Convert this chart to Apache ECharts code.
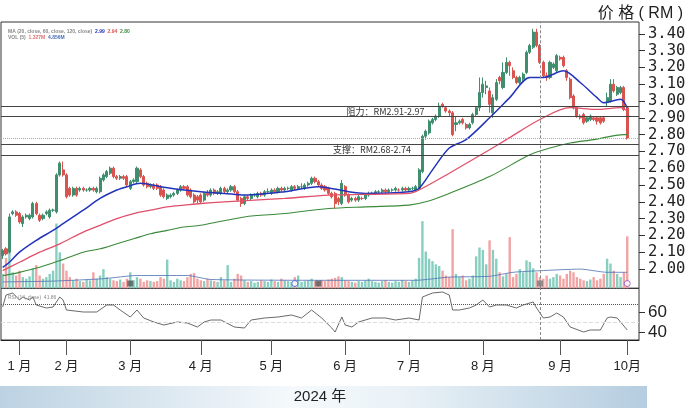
<!DOCTYPE html>
<html><head><meta charset="utf-8">
<script src="https://cdn.jsdelivr.net/npm/echarts@6/dist/echarts.min.js"></script>
<style>html,body{margin:0;padding:0;background:#fff}#c{width:690px;height:408px}</style>
</head><body><div id="c"></div>
<script>
// ---- data ----
// candles: [open, close, low, high]
const candles = [
[2.08,2.11,2.06,2.12],[2.12,2.09,2.08,2.13],[2.10,2.31,2.09,2.33],[2.33,2.34,2.32,2.35],[2.34,2.32,2.31,2.35],
[2.33,2.28,2.27,2.34],[2.27,2.31,2.25,2.32],[2.31,2.32,2.30,2.33],[2.30,2.32,2.29,2.33],[2.31,2.39,2.30,2.40],
[2.39,2.33,2.32,2.40],[2.32,2.29,2.28,2.33],[2.30,2.32,2.29,2.33],[2.33,2.34,2.32,2.35],[2.31,2.35,2.30,2.36],
[2.35,2.35,2.34,2.36],[2.34,2.56,2.33,2.57],[2.56,2.63,2.55,2.64],[2.59,2.56,2.55,2.64],[2.56,2.43,2.42,2.57],
[2.48,2.44,2.43,2.49],[2.44,2.48,2.43,2.49],[2.48,2.44,2.43,2.49],[2.47,2.48,2.46,2.49],[2.48,2.47,2.46,2.49],
[2.47,2.47,2.46,2.48],[2.47,2.48,2.46,2.49],[2.48,2.47,2.46,2.49],[2.46,2.48,2.45,2.49],[2.46,2.54,2.45,2.55],
[2.53,2.56,2.52,2.57],[2.55,2.58,2.54,2.59],[2.57,2.60,2.56,2.61],[2.60,2.55,2.54,2.61],[2.55,2.54,2.53,2.56],
[2.54,2.55,2.53,2.56],[2.55,2.54,2.53,2.56],[2.55,2.50,2.49,2.56],[2.48,2.52,2.47,2.53],[2.52,2.53,2.51,2.54],
[2.52,2.60,2.51,2.61],[2.59,2.55,2.54,2.60],[2.55,2.50,2.49,2.56],[2.51,2.49,2.48,2.52],[2.49,2.50,2.48,2.51],
[2.50,2.48,2.47,2.51],[2.50,2.48,2.47,2.51],[2.49,2.44,2.43,2.50],[2.47,2.43,2.42,2.48],[2.42,2.44,2.41,2.45],
[2.43,2.44,2.42,2.45],[2.44,2.45,2.43,2.46],[2.45,2.47,2.44,2.48],[2.47,2.49,2.46,2.50],[2.49,2.48,2.47,2.50],
[2.49,2.44,2.43,2.50],[2.47,2.43,2.42,2.48],[2.44,2.40,2.39,2.45],[2.43,2.41,2.39,2.44],[2.44,2.40,2.39,2.45],
[2.41,2.45,2.40,2.46],[2.45,2.44,2.43,2.47],[2.44,2.47,2.43,2.48],[2.47,2.45,2.44,2.48],[2.45,2.46,2.44,2.47],
[2.45,2.48,2.44,2.49],[2.48,2.46,2.45,2.49],[2.46,2.47,2.45,2.48],[2.47,2.49,2.46,2.50],[2.49,2.46,2.45,2.50],
[2.46,2.41,2.40,2.47],[2.42,2.39,2.37,2.43],[2.39,2.43,2.38,2.44],[2.43,2.42,2.41,2.44],[2.42,2.44,2.41,2.45],
[2.44,2.44,2.43,2.45],[2.43,2.45,2.42,2.46],[2.45,2.44,2.43,2.46],[2.44,2.46,2.43,2.47],[2.46,2.46,2.45,2.48],
[2.45,2.47,2.44,2.48],[2.47,2.46,2.45,2.48],[2.46,2.48,2.45,2.49],[2.48,2.47,2.46,2.49],[2.47,2.48,2.46,2.49],
[2.48,2.48,2.47,2.49],[2.47,2.49,2.46,2.50],[2.49,2.48,2.47,2.50],[2.48,2.49,2.47,2.50],[2.49,2.49,2.48,2.51],
[2.48,2.50,2.47,2.51],[2.50,2.51,2.49,2.52],[2.51,2.54,2.50,2.55],[2.54,2.52,2.51,2.55],[2.52,2.50,2.49,2.53],
[2.50,2.48,2.47,2.51],[2.49,2.47,2.46,2.50],[2.48,2.45,2.44,2.49],[2.45,2.43,2.42,2.46],[2.45,2.39,2.36,2.46],
[2.42,2.40,2.38,2.43],[2.39,2.51,2.38,2.53],[2.49,2.44,2.43,2.50],[2.44,2.40,2.39,2.45],[2.41,2.42,2.40,2.43],
[2.42,2.41,2.40,2.43],[2.41,2.43,2.40,2.44],[2.42,2.42,2.41,2.43],[2.42,2.44,2.41,2.45],[2.44,2.45,2.43,2.46],
[2.45,2.45,2.44,2.46],[2.45,2.46,2.44,2.47],[2.46,2.46,2.45,2.47],[2.46,2.47,2.45,2.48],[2.47,2.46,2.45,2.48],
[2.46,2.47,2.45,2.48],[2.47,2.47,2.46,2.48],[2.47,2.48,2.46,2.49],[2.47,2.47,2.46,2.48],[2.47,2.48,2.46,2.49],
[2.48,2.47,2.46,2.49],[2.47,2.48,2.46,2.49],[2.48,2.48,2.47,2.49],[2.47,2.49,2.46,2.50],[2.48,2.59,2.47,2.60],
[2.58,2.79,2.57,2.80],[2.79,2.82,2.77,2.83],[2.81,2.88,2.80,2.89],[2.87,2.89,2.86,2.90],[2.89,2.91,2.88,2.92],
[2.91,2.97,2.90,2.99],[2.98,2.97,2.96,2.99],[2.96,2.94,2.93,2.97],[2.94,2.93,2.91,2.95],[2.93,2.80,2.79,2.94],
[2.86,2.87,2.82,2.91],[2.87,2.88,2.86,2.89],[2.89,2.87,2.86,2.90],[2.86,2.84,2.83,2.87],[2.84,2.86,2.83,2.87],
[2.87,2.92,2.86,2.93],[2.92,2.96,2.91,2.97],[2.96,3.05,2.94,3.14],[3.05,3.10,3.02,3.14],[3.08,3.09,3.04,3.12],
[3.06,2.98,2.93,3.08],[2.93,3.02,2.90,3.04],[3.01,3.11,3.00,3.13],[3.14,3.12,3.10,3.15],[3.08,3.17,3.07,3.23],
[3.17,3.23,3.16,3.26],[3.23,3.21,3.15,3.24],[3.18,3.14,3.13,3.20],[3.14,3.11,3.10,3.15],[3.11,3.14,3.10,3.15],
[3.13,3.16,3.12,3.17],[3.17,3.29,3.16,3.30],[3.29,3.33,3.28,3.34],[3.32,3.41,3.31,3.43],[3.41,3.33,3.32,3.43],
[3.33,3.23,3.22,3.34],[3.23,3.15,3.14,3.24],[3.15,3.14,3.12,3.17],[3.14,3.23,3.13,3.24],[3.20,3.22,3.19,3.23],
[3.18,3.27,3.17,3.28],[3.26,3.25,3.24,3.27],[3.26,3.21,3.20,3.27],[3.18,3.14,3.12,3.19],[3.13,3.02,3.01,3.14],
[3.03,2.96,2.95,3.04],[2.96,2.91,2.90,2.97],[2.91,2.90,2.89,2.92],[2.92,2.87,2.86,2.93],[2.88,2.90,2.87,2.91],
[2.89,2.91,2.88,2.92],[2.90,2.89,2.88,2.91],[2.90,2.88,2.86,2.91],[2.90,2.87,2.86,2.91],[2.90,2.88,2.87,2.91],
[2.99,3.02,2.97,3.05],[3.00,3.10,2.99,3.13],[3.10,3.06,3.05,3.13],[3.04,3.08,3.03,3.09],[3.05,3.08,3.04,3.09],
[3.08,2.95,2.94,3.09],[2.96,2.78,2.77,2.97]
];
const volumes = [
18,38,45,20,16,22,14,12,15,25,
29,16,12,14,18,22,81,45,31,22,
14,10,12,9,8,11,10,20,12,16,
24,14,12,10,9,11,8,12,20,10,
14,12,8,10,9,8,9,14,12,36,
10,8,12,10,9,14,18,19,12,10,
9,12,10,9,8,14,10,29,8,12,
18,16,10,8,9,7,8,10,9,8,
11,9,8,12,10,9,8,14,16,8,
9,10,12,9,8,10,9,11,12,13,
15,14,10,9,8,7,9,8,10,12,
9,8,7,9,10,8,7,9,8,10,
9,8,10,12,38,84,46,37,34,30,
28,22,16,14,74,18,14,16,10,12,
16,40,51,48,30,60,48,37,20,15,
18,64,14,18,24,20,35,33,25,20,
14,12,16,12,14,18,16,12,18,22,
20,14,12,10,9,11,14,10,12,18,
37,31,22,18,14,20,65
];
// moving averages sampled at candle index: [index, value]
const maBlue = [[0,2.01],[2,2.04],[5,2.10],[10,2.17],[15,2.23],[18,2.27],[24,2.35],[29,2.42],[34,2.47],[37,2.49],[41,2.51],[47,2.49],[54,2.47],[59,2.46],[66,2.45],[72,2.44],[84,2.46],[94,2.49],[103,2.46],[108,2.45],[121,2.46],[124,2.48],[128,2.59],[133,2.72],[138,2.77],[145,2.90],[151,3.02],[157,3.14],[161,3.14],[167,3.18],[172,3.11],[177,3.02],[179,2.99],[184,3.01],[186,2.96]];
const maRed = [[0,1.99],[5,2.04],[11,2.10],[17,2.15],[24,2.22],[29,2.26],[34,2.30],[39,2.33],[44,2.35],[49,2.37],[54,2.38],[59,2.39],[66,2.40],[84,2.42],[97,2.44],[121,2.45],[124,2.47],[133,2.57],[145,2.71],[150,2.77],[160,2.89],[169,2.96],[177,2.95],[184,2.96],[186,2.94]];
const maGreen = [[0,1.96],[5,1.98],[11,2.01],[17,2.05],[24,2.10],[29,2.12],[34,2.15],[39,2.18],[44,2.21],[49,2.23],[54,2.25],[59,2.26],[72,2.31],[84,2.33],[97,2.36],[108,2.37],[121,2.38],[126,2.40],[133,2.45],[145,2.55],[157,2.68],[163,2.72],[169,2.75],[176,2.77],[185,2.80],[186,2.80]];
const volMA = [[0,8],[15,9],[30,12],[40,16],[55,16],[62,11],[100,10],[123,10],[133,14],[145,15],[152,20],[160,22],[172,24],[180,20],[186,20]];
const rsi = [[0,65],[1,77],[3,79],[5,72],[6,75],[8,72],[9,75],[10,67],[13,64],[15,65],[17,75],[18,72],[19,62],[24,60],[28,60],[31,67],[33,67],[35,62],[38,55],[40,62],[42,54],[45,50],[48,47],[52,50],[55,49],[58,45],[60,50],[62,52],[65,52],[69,45],[72,44],[74,52],[78,54],[82,55],[86,57],[89,54],[92,62],[95,54],[98,44],[99,40],[101,55],[102,47],[104,45],[106,50],[110,54],[114,54],[117,52],[121,54],[124,52],[125,75],[128,79],[131,80],[133,77],[134,62],[136,62],[139,64],[141,67],[143,72],[145,65],[147,67],[150,67],[153,64],[155,67],[158,70],[159,64],[161,54],[163,55],[165,59],[167,55],[169,45],[173,40],[175,42],[178,42],[180,54],[181,55],[183,54],[186,42]];
const levels = [2.97, 2.91, 2.74, 2.68];
const lastPrice = 2.78;
const notes = [{idx:114, price:2.94, text:'阻力：RM2.91-2.97'},{idx:110, price:2.71, text:'支撑：RM2.68-2.74'}];
const crossIdx = 160;
const events = [{idx:38, kind:'sq'},{idx:87, kind:'ci'},{idx:94, kind:'sq'},{idx:160, kind:'sq2'},{idx:186, kind:'ci2'}];
const priceTicks = [2.0,2.1,2.2,2.3,2.4,2.5,2.6,2.7,2.8,2.9,3.0,3.1,3.2,3.3,3.4];
const rsiTicks = [40, 60];
const monthTickIdx = [5, 19, 38, 59, 80, 102, 121, 143, 166, 186];
const monthLabels = ['1 月','2 月','3 月','4 月','5 月','6 月','7 月','8 月','9 月','10月'];
const N_SLOTS = 190;

// ---- chart ----
const cats = Array.from({length: N_SLOTS}, (_, i) => 'd' + i);
const UP = '#3f8f6e', DOWN = '#d9534f', VUP = '#88cfc1', VDOWN = '#f2a3a3';
const FONT = '"Liberation Sans","Noto Sans CJK SC",sans-serif';
const MONO = '"DejaVu Sans Mono","Liberation Mono",monospace';
const isMonth = (i) => monthTickIdx.indexOf(i) >= 0;

const chart = echarts.init(document.getElementById('c'), null, {renderer: 'canvas'});
chart.setOption({
  animation: false,
  backgroundColor: '#fff',
  textStyle: {fontFamily: FONT},
  title: [
    {text: '价 格 ( RM )', right: 2, top: 1, textStyle: {fontSize: 16, fontWeight: 'normal', color: '#222', fontFamily: FONT}},
    {text: '{a|MA (20, close, 60, close, 120, close)}  {b|2.99}  {r|2.94}  {g|2.80}\n{a|VOL (5)}  {p|1.327M}  {v|4.856M}', left: 3, top: 24,
     textStyle: {fontSize: 5, lineHeight: 6, rich: {a:{fontSize:5,color:'#888'}, b:{fontSize:5,color:'#2233bb'}, r:{fontSize:5,color:'#d9534f'}, g:{fontSize:5,color:'#3a8a3a'}, p:{fontSize:5,color:'#e07070'}, v:{fontSize:5,color:'#4a6fb5'}}}},
    {text: 'RSI (14, close)  41.86', left: 3, top: 290, textStyle: {fontSize: 5, fontWeight: 'normal', color: '#888'}}
  ],
  grid: [
    {left: 1, width: 638, top: 33.8, height: 235.2},
    {left: 1, width: 638, top: 22, height: 266.3, show: true, borderColor: '#333', borderWidth: 1},
    {left: 1, width: 638, top: 288.3, height: 51.7, show: true, borderColor: '#333', borderWidth: 1}
  ],
  xAxis: [
    {type: 'category', gridIndex: 0, data: cats, show: false},
    {type: 'category', gridIndex: 1, data: cats, show: false},
    {type: 'category', gridIndex: 2, data: cats,
     axisLine: {show: true, lineStyle: {color: '#222', width: 1}},
     axisTick: {show: true, length: 15, alignWithLabel: true, interval: (i) => isMonth(i), lineStyle: {color: '#555'}},
     axisLabel: {interval: (i) => isMonth(i), formatter: (v, i) => monthLabels[monthTickIdx.indexOf(i)] || '', margin: 20, fontSize: 13, color: '#222', fontFamily: FONT},
     splitLine: {show: false}}
  ],
  yAxis: [
    {type: 'value', gridIndex: 0, position: 'right', min: 2.0, max: 3.4, scale: true,
     axisLine: {show: false},
     axisTick: {show: true, length: 6, customValues: priceTicks, lineStyle: {color: '#333'}},
     axisLabel: {customValues: priceTicks, formatter: (v) => v.toFixed(2), margin: 9, fontSize: 15.5, color: '#222', fontFamily: MONO},
     splitLine: {show: false}},
    {type: 'value', gridIndex: 1, min: 0, max: 333, show: false},
    {type: 'value', gridIndex: 2, position: 'right', min: 32, max: 83.7,
     axisLine: {show: false},
     axisTick: {show: true, length: 6, customValues: rsiTicks, lineStyle: {color: '#333'}},
     axisLabel: {customValues: rsiTicks, margin: 9, fontSize: 17, color: '#222', fontFamily: FONT},
     splitLine: {show: false}}
  ],
  series: [
    {type: 'candlestick', xAxisIndex: 0, yAxisIndex: 0, data: candles, clip: false, barWidth: 2.6,
     itemStyle: {color: UP, color0: DOWN, borderColor: UP, borderColor0: DOWN, borderWidth: 1},
     markLine: {silent: true, symbol: ['none','none'], label: {show: false},
       data: levels.map(v => ({yAxis: v, lineStyle: {color: '#444', width: 1.2, type: 'solid'}}))
         .concat([{yAxis: lastPrice, lineStyle: {color: '#aaa', width: 1, type: 'dotted'}}])},
     markPoint: {silent: true, symbol: 'circle', symbolSize: 1, itemStyle: {color: 'rgba(0,0,0,0)'},
       data: notes.map(n => ({coord: [n.idx, n.price], label: {show: true, position: 'inside', formatter: n.text, fontSize: 9, color: '#333', fontFamily: '"Noto Sans CJK SC",sans-serif'}}))}
    },
    {type: 'line', xAxisIndex: 0, yAxisIndex: 0, data: maBlue, showSymbol: false, smooth: 0.3, clip: false, lineStyle: {color: '#2233bb', width: 1.5}, z: 3},
    {type: 'line', xAxisIndex: 0, yAxisIndex: 0, data: maRed, showSymbol: false, smooth: 0.3, clip: false, lineStyle: {color: '#e0506a', width: 1.3}, z: 3},
    {type: 'line', xAxisIndex: 0, yAxisIndex: 0, data: maGreen, showSymbol: false, smooth: 0.3, clip: false, lineStyle: {color: '#3a8a3a', width: 1.1}, z: 3},
    {type: 'bar', xAxisIndex: 1, yAxisIndex: 1, barWidth: 2.4, z: 1,
     data: volumes.map((v, i) => ({value: v, itemStyle: {color: candles[i][1] >= candles[i][0] ? VUP : VDOWN}})),
     markLine: {silent: true, symbol: ['none','none'], label: {show: false}, data: [{xAxis: crossIdx, lineStyle: {color: '#888', width: 1, type: [3, 2]}}]}},
    {type: 'line', xAxisIndex: 1, yAxisIndex: 1, data: volMA, showSymbol: false, smooth: 0.2, lineStyle: {color: '#4a6fb5', width: 0.8}, z: 2},
    {type: 'scatter', xAxisIndex: 1, yAxisIndex: 1, z: 4,
     data: events.map(e => ({value: [e.idx, 6],
       symbol: e.kind.startsWith('sq') ? 'rect' : 'circle', symbolSize: 6,
       itemStyle: e.kind === 'sq' ? {color: '#555'} : e.kind === 'sq2' ? {color: '#777'} : {color: '#fff', borderColor: e.kind === 'ci' ? '#3b5bd0' : '#8a4ac0', borderWidth: 1}}))},
    {type: 'line', xAxisIndex: 2, yAxisIndex: 2, data: rsi, showSymbol: false, lineStyle: {color: '#444', width: 0.8},
     markLine: {silent: true, symbol: ['none','none'], label: {show: false},
       data: [{yAxis: 68, lineStyle: {color: '#555', width: 1, type: 'dotted'}},
              {yAxis: 50, lineStyle: {color: '#ddd', width: 1, type: 'dashed'}},
              {xAxis: crossIdx, lineStyle: {color: '#888', width: 1, type: [3, 2]}}]}}
  ],
  graphic: [
    {type: 'rect', left: 0, top: 386, silent: true, shape: {width: 647, height: 22},
     style: {fill: new echarts.graphic.LinearGradient(0, 0, 1, 0, [
       {offset: 0, color: '#bcd2e2'}, {offset: 0.45, color: '#f5f9fc'}, {offset: 0.62, color: '#eaf2f7'}, {offset: 1, color: '#b5cde0'}])}},
    {type: 'text', x: 320, y: 397, silent: true,
     style: {text: '2024 年', fill: '#222', font: '15px ' + FONT, align: 'center', verticalAlign: 'middle', textAlign: 'center', textVerticalAlign: 'middle'}}
  ]
});
</script>
</body></html>
